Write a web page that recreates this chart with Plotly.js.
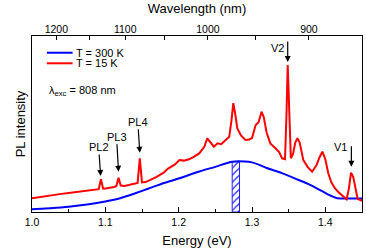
<!DOCTYPE html>
<html><head><meta charset="utf-8">
<script src="https://cdn.plot.ly/plotly-3.0.1.min.js"></script>
<style>html,body{margin:0;padding:0;background:#fff;}#plot{width:366px;height:252px;}</style>
</head><body><div id="plot"></div>
<script>
// 15 K spectrum
var redE = [1.000,1.010,1.020,1.029,1.040,1.050,1.060,1.070,1.080,1.088,1.091,1.094,1.097,1.100,1.106,1.112,1.115,1.118,1.121,1.126,1.132,1.140,1.144,1.147,1.150,1.155,1.160,1.165,1.170,1.175,1.180,1.185,1.190,1.195,1.201,1.207,1.214,1.220,1.228,1.235,1.239,1.243,1.248,1.253,1.258,1.263,1.269,1.272,1.2745,1.277,1.280,1.285,1.291,1.296,1.300,1.305,1.309,1.313,1.316,1.320,1.325,1.332,1.337,1.341,1.345,1.347,1.3487,1.351,1.353,1.356,1.359,1.362,1.365,1.370,1.376,1.382,1.388,1.392,1.396,1.400,1.404,1.408,1.413,1.418,1.422,1.429,1.432,1.435,1.438,1.441,1.444,1.450];
var redI = [0.078,0.085,0.092,0.097,0.103,0.108,0.113,0.120,0.124,0.127,0.130,0.186,0.132,0.133,0.137,0.142,0.148,0.195,0.150,0.148,0.153,0.160,0.165,0.305,0.168,0.170,0.182,0.190,0.200,0.212,0.225,0.245,0.258,0.270,0.295,0.292,0.300,0.312,0.333,0.370,0.419,0.400,0.371,0.390,0.385,0.405,0.428,0.520,0.618,0.560,0.475,0.435,0.409,0.412,0.420,0.494,0.510,0.570,0.540,0.450,0.390,0.362,0.340,0.305,0.300,0.550,0.835,0.550,0.305,0.330,0.395,0.419,0.395,0.295,0.255,0.229,0.267,0.310,0.343,0.300,0.220,0.170,0.135,0.112,0.097,0.072,0.130,0.223,0.200,0.140,0.075,0.064];
// 300 K spectrum
var blueE = [1.000,1.025,1.050,1.075,1.100,1.120,1.140,1.160,1.180,1.200,1.228,1.251,1.273,1.290,1.300,1.310,1.320,1.340,1.360,1.380,1.395,1.405,1.415,1.425,1.450];
var blueI = [0.016,0.022,0.030,0.042,0.060,0.078,0.105,0.135,0.165,0.190,0.230,0.258,0.286,0.287,0.282,0.268,0.250,0.222,0.188,0.153,0.120,0.097,0.080,0.077,0.077];
// hatched band
var bandE = [1.278];
var bandI = [0.286];
// legend
var seriesNames = ['T = 300 K','T = 15 K'];
var seriesColors = ['#0000ff','#ff0000'];
// top axis wavelengths
var wlMajor = [1200,1100,1000,900];
var wlMinor = [1150,1050,950];
// peak labels
var peakNames = ['PL2','PL3','PL4'];
var peakE = [1.0936,1.118,1.147];
var peakI = [0.205,0.229,0.337];
var peakAy = [-29,-35,-31];
var vNames = ['V2','V1'];
var vE = [1.3487,1.4355];
var vI = [0.852,0.257];
var vLabE = [1.335,1.420];
var vLabI = [0.93,0.368];

var F = 'Arial, "Liberation Sans", sans-serif';
var hc = 1239.84;
var topVals = [], topText = [];
wlMajor.forEach(function(w){topVals.push(hc/w);topText.push(String(w));});
wlMinor.forEach(function(w){topVals.push(hc/w);topText.push('');});

var traces = [
 {type:'bar', x:bandE, y:bandI, width:0.01, showlegend:false,
  marker:{color:'white', line:{color:'#2020ff', width:1}, pattern:{shape:'/', fgcolor:'#2020ff', bgcolor:'white', size:5, solidity:0.25}}},
 {type:'scatter', mode:'lines', x:blueE, y:blueI, name:seriesNames[0], showlegend:false, line:{color:seriesColors[0], width:2, shape:'spline', smoothing:0.6}},
 {type:'scatter', mode:'lines', x:redE, y:redI, name:seriesNames[1], showlegend:false, line:{color:seriesColors[1], width:2}},
 {type:'scatter', mode:'lines', x:[1.0,1.45], y:[null,null], xaxis:'x2', showlegend:false, hoverinfo:'skip'}
];

var ann = [];
var shapes = [];
var legY = [0.905, 0.845];
seriesNames.forEach(function(n,i){
 shapes.push({type:'line', xref:'paper', yref:'paper', x0:0.045, x1:0.123, y0:legY[i], y1:legY[i], line:{color:seriesColors[i], width:2}});
 ann.push({x:0.128, y:legY[i], xref:'paper', yref:'paper', xanchor:'left', yanchor:'middle', showarrow:false, text:n, font:{family:F,size:11,color:'#000'}});
});
peakNames.forEach(function(n,i){
 ann.push({x:peakE[i], y:peakI[i], xref:'x', yref:'y', text:n, showarrow:true, ax:-2, ay:peakAy[i],
  arrowhead:2, arrowsize:1, arrowwidth:1.2, arrowcolor:'#000', font:{family:F,size:11,color:'#000'}});
});
vNames.forEach(function(n,i){
 ann.push({x:vE[i], y:vI[i], xref:'x', yref:'y', text:'', showarrow:true, ax:0, ay:-22,
  arrowhead:2, arrowsize:1, arrowwidth:1.2, arrowcolor:'#000'});
 ann.push({x:vLabE[i], y:vLabI[i], xref:'x', yref:'y', text:n, showarrow:false, font:{family:F,size:11,color:'#000'}});
});
ann.push({x:0.044, y:0.69, xref:'paper', yref:'paper', xanchor:'left', yanchor:'middle', showarrow:false,
 text:'λ<sub>exc</sub> = 808 nm', font:{family:F,size:11,color:'#000'}});

var layout = {
 width:366, height:252,
 margin:{l:32, r:4, t:36, b:40},
 paper_bgcolor:'white', plot_bgcolor:'white',
 font:{family:F, size:11, color:'#000'},
 showlegend:false,
 xaxis:{range:[1.0,1.45], dtick:0.1, tick0:1.0, tickformat:'.1f', ticks:'inside', ticklen:5, tickcolor:'#000',
  minor:{dtick:0.05, ticks:'inside', ticklen:3, tickcolor:'#000'},
  showline:true, linecolor:'#000', linewidth:1, mirror:true, showgrid:false, zeroline:false,
  tickfont:{family:F,size:10.5}, title:{text:'Energy (eV)', font:{family:F,size:13}, standoff:9}},
 xaxis2:{overlaying:'x', side:'top', range:[1.0,1.45], tickmode:'array', tickvals:topVals, ticktext:topText,
  ticks:'inside', ticklen:4, tickcolor:'#000', showgrid:false, zeroline:false, showline:false,
  tickfont:{family:F,size:10.5}, title:{text:'Wavelength (nm)', font:{family:F,size:13}, standoff:6}},
 yaxis:{range:[0,1], showticklabels:false, ticks:'', showgrid:false, zeroline:false,
  showline:true, linecolor:'#000', linewidth:1, mirror:true,
  title:{text:'PL intensity', font:{family:F,size:13}, standoff:2}},
 bargap:0,
 shapes:shapes,
 annotations:ann
};
Plotly.newPlot('plot', traces, layout, {staticPlot:true, displayModeBar:false});
</script></body></html>
